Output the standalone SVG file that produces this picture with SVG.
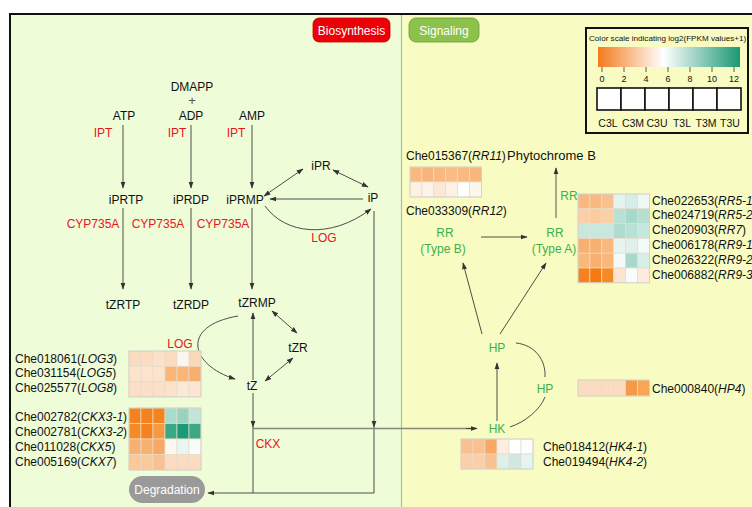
<svg xmlns="http://www.w3.org/2000/svg" width="752" height="507" viewBox="0 0 752 507">
<defs>
<marker id="ah" viewBox="0 0 10 10" refX="9" refY="5" markerWidth="7" markerHeight="7" orient="auto-start-reverse" markerUnits="userSpaceOnUse"><path d="M0,1.5 L10,5 L0,8.5 Z" fill="#333"/></marker>
<linearGradient id="grad" x1="0" y1="0" x2="1" y2="0">
<stop offset="0" stop-color="#f47a1c"/>
<stop offset="0.46" stop-color="#ffffff"/>
<stop offset="1" stop-color="#1b9872"/>
</linearGradient>
<style>
text{font-family:"Liberation Sans",Arial,sans-serif;font-size:12px;fill:#111;}
.c{text-anchor:middle;}
.red{fill:#e8151d;}
.grn{fill:#3db04a;}
.it{font-style:italic;}
.ln{stroke:#3a3a3a;stroke-width:0.9;fill:none;}
.arr{marker-end:url(#ah);}
.dbl{marker-start:url(#ah);marker-end:url(#ah);}
.gl{stroke:#85887c;stroke-width:1.6;fill:none;}
.hm rect{stroke:#e6dccb;stroke-width:0.7;}
.hmb{fill:none;stroke:#cfcfc4;stroke-width:0.8;}
.tk{font-size:9px;text-anchor:middle;}
.cl{font-size:10.5px;text-anchor:middle;}
</style>
</defs>

<rect x="0" y="0" width="752" height="507" fill="#ffffff"/>
<rect x="11" y="15" width="391" height="492" fill="#eefcd8"/>
<rect x="402" y="15" width="350" height="492" fill="#f8fcc2"/>
<line x1="401.5" y1="15" x2="401.5" y2="507" stroke="#b6bc9c" stroke-width="1.2"/>
<path d="M10,507 V14 H752" fill="none" stroke="#111" stroke-width="2"/>

<g id="btn-biosynthesis">
<rect x="313" y="18" width="77" height="24" rx="6" fill="#ec0008" stroke="#c80000" stroke-width="0.8"/>
<text x="351.5" y="34.5" class="c" style="fill:#fff">Biosynthesis</text>
</g>
<g id="btn-signaling">
<rect x="409" y="18" width="70" height="24" rx="7" fill="#8cc24c" stroke="#6b9a3a" stroke-width="0.8"/>
<text x="444" y="34.5" class="c" style="fill:#fff">Signaling</text>
</g>

<g id="legend">
<rect x="586" y="28" width="162" height="105" fill="#f8fcc2" stroke="#111" stroke-width="2"/>
<text x="589" y="41" style="font-size:8.1px">Color scale indicating log2(FPKM values+1)</text>
<rect x="598" y="47" width="142" height="20" fill="url(#grad)"/>
<g stroke="#333" stroke-width="0.8">
<line x1="602" y1="67" x2="602" y2="72"/><line x1="624" y1="67" x2="624" y2="72"/><line x1="646" y1="67" x2="646" y2="72"/><line x1="668" y1="67" x2="668" y2="72"/><line x1="690" y1="67" x2="690" y2="72"/><line x1="712" y1="67" x2="712" y2="72"/><line x1="734" y1="67" x2="734" y2="72"/>
</g>
<text x="602" y="82" class="tk">0</text><text x="624" y="82" class="tk">2</text><text x="646" y="82" class="tk">4</text><text x="668" y="82" class="tk">6</text><text x="690" y="82" class="tk">8</text><text x="712" y="82" class="tk">10</text><text x="734" y="82" class="tk">12</text>
<g fill="#fff" stroke="#111" stroke-width="1.6">
<rect x="597" y="88" width="24" height="22"/><rect x="621" y="88" width="24" height="22"/><rect x="645" y="88" width="24" height="22"/><rect x="669" y="88" width="24" height="22"/><rect x="693" y="88" width="24" height="22"/><rect x="717" y="88" width="24" height="22"/>
</g>
<text x="608" y="127" class="cl">C3L</text>
<text x="633" y="127" class="cl">C3M</text>
<text x="657" y="127" class="cl">C3U</text>
<text x="682" y="127" class="cl">T3L</text>
<text x="706" y="127" class="cl">T3M</text>
<text x="730" y="127" class="cl">T3U</text>
</g>

<g id="connectors">
<line x1="123" y1="125" x2="123" y2="188" class="ln arr"/>
<line x1="191" y1="125" x2="191" y2="188" class="ln arr"/>
<line x1="252" y1="125" x2="252" y2="188" class="ln arr"/>
<line x1="123" y1="208" x2="123" y2="289" class="ln arr"/>
<line x1="191" y1="208" x2="191" y2="289" class="ln arr"/>
<line x1="252" y1="208" x2="252" y2="289" class="ln arr"/>
<line x1="264" y1="196" x2="303" y2="169" class="ln dbl"/>
<line x1="333" y1="170" x2="368" y2="187" class="ln dbl"/>
<line x1="363" y1="199" x2="270" y2="199" class="ln arr"/>
<path d="M265,206 C285,234 330,240 371,209" class="ln arr"/>
<path d="M374,211 V427" class="ln arr"/>
<path d="M374,427 V493 H208" class="ln arr"/>
<line x1="272" y1="311" x2="297" y2="333" class="ln dbl"/>
<line x1="293" y1="358" x2="265" y2="381" class="ln dbl"/>
<line x1="253" y1="380" x2="253" y2="313" class="ln arr"/>
<path d="M238,316 C180,326 190,365 235,379" class="ln arr"/>
<line x1="253" y1="393" x2="253" y2="427" class="ln arr"/>
<path d="M253,427 V493" class="ln"/>
<line x1="253" y1="428.5" x2="476" y2="428.5" class="gl"/>
<line x1="466" y1="428.5" x2="477" y2="428.5" class="ln arr"/>
<line x1="497" y1="421" x2="497" y2="363" class="ln arr"/>
<line x1="482" y1="334" x2="463" y2="263" class="ln arr"/>
<line x1="500" y1="334" x2="546" y2="263" class="ln arr"/>
<path d="M516,343 C535,345 546,360 545,377" class="ln"/>
<path d="M545,397 C540,410 525,422 510,427" class="ln"/>
<line x1="481" y1="237" x2="527" y2="237" class="ln arr"/>
<line x1="556" y1="218" x2="556" y2="168" stroke="#7a7a70" stroke-width="1.3" class="arr"/>
</g>

<g id="n-dmapp"><text x="192" y="91" class="c">DMAPP</text><text x="192" y="105" class="c" style="fill:#555;font-size:13px">+</text></g>
<g id="n-atp"><text x="124" y="119.5" class="c">ATP</text></g>
<g id="n-adp"><text x="191" y="119.5" class="c">ADP</text></g>
<g id="n-amp"><text x="252" y="119.5" class="c">AMP</text></g>
<g id="lbl-ipt"><text x="103" y="137" class="c red">IPT</text><text x="177" y="137" class="c red">IPT</text><text x="236" y="137" class="c red">IPT</text></g>
<g id="n-iprtp"><text x="126" y="204" class="c">iPRTP</text></g>
<g id="n-iprdp"><text x="191" y="204" class="c">iPRDP</text></g>
<g id="n-iprmp"><text x="245" y="204" class="c">iPRMP</text></g>
<g id="n-ipr"><text x="321" y="169.5" class="c">iPR</text></g>
<g id="n-ip"><text x="373" y="201.5" class="c">iP</text></g>
<g id="lbl-cyp"><text x="93" y="227.5" class="c red">CYP735A</text><text x="158" y="227.5" class="c red">CYP735A</text><text x="223" y="227.5" class="c red">CYP735A</text></g>
<g id="lbl-log1"><text x="324" y="241.5" class="c red">LOG</text></g>
<g id="n-tzrtp"><text x="123" y="309" class="c">tZRTP</text></g>
<g id="n-tzrdp"><text x="191" y="309" class="c">tZRDP</text></g>
<g id="n-tzrmp"><text x="257" y="306.5" class="c">tZRMP</text></g>
<g id="n-tzr"><text x="298" y="351.5" class="c">tZR</text></g>
<g id="n-tz"><text x="252" y="390" class="c">tZ</text></g>
<g id="lbl-log2"><text x="180" y="347.5" class="c red">LOG</text></g>
<g id="lbl-ckx"><text x="268" y="448" class="c red">CKX</text></g>
<g id="n-degradation">
<rect x="129" y="476" width="76" height="27" rx="13.5" fill="#9a9a9a"/>
<text x="167" y="494" class="c" style="fill:#fff">Degradation</text>
</g>

<g id="hm-log">
<g class="hm">
<rect x="129" y="351" width="12" height="15.3" fill="#fbdcc0"/><rect x="141" y="351" width="12" height="15.3" fill="#fbdcc0"/><rect x="153" y="351" width="12" height="15.3" fill="#fbe1c9"/><rect x="165" y="351" width="12" height="15.3" fill="#fbdcc0"/><rect x="177" y="351" width="12" height="15.3" fill="#fdf6ee"/><rect x="189" y="351" width="12" height="15.3" fill="#fbd8ba"/>
<rect x="129" y="366.3" width="12" height="15.3" fill="#fce3cc"/><rect x="141" y="366.3" width="12" height="15.3" fill="#fce3cc"/><rect x="153" y="366.3" width="12" height="15.3" fill="#fce3cc"/><rect x="165" y="366.3" width="12" height="15.3" fill="#f9b676"/><rect x="177" y="366.3" width="12" height="15.3" fill="#f9b676"/><rect x="189" y="366.3" width="12" height="15.3" fill="#f8ae6c"/>
<rect x="129" y="381.6" width="12" height="15.3" fill="#fbdfc6"/><rect x="141" y="381.6" width="12" height="15.3" fill="#fbdfc6"/><rect x="153" y="381.6" width="12" height="15.3" fill="#fbdfc6"/><rect x="165" y="381.6" width="12" height="15.3" fill="#fbe2cb"/><rect x="177" y="381.6" width="12" height="15.3" fill="#fce8d6"/><rect x="189" y="381.6" width="12" height="15.3" fill="#fce6d2"/>
</g>
<rect x="129" y="351" width="72" height="45.9" class="hmb"/>
<text x="15" y="362.5">Che018061(<tspan class="it">LOG3</tspan>)</text>
<text x="15" y="377">Che031154(<tspan class="it">LOG5</tspan>)</text>
<text x="15" y="391.5">Che025577(<tspan class="it">LOG8</tspan>)</text>
</g>

<g id="hm-ckx">
<g class="hm">
<rect x="129" y="408" width="12" height="15.5" fill="#f5821f"/><rect x="141" y="408" width="12" height="15.5" fill="#f5821f"/><rect x="153" y="408" width="12" height="15.5" fill="#f5841f"/><rect x="165" y="408" width="12" height="15.5" fill="#a9dccc"/><rect x="177" y="408" width="12" height="15.5" fill="#97d3c0"/><rect x="189" y="408" width="12" height="15.5" fill="#c2e5da"/>
<rect x="129" y="423.5" width="12" height="15.5" fill="#f58a28"/><rect x="141" y="423.5" width="12" height="15.5" fill="#f5821f"/><rect x="153" y="423.5" width="12" height="15.5" fill="#f69a42"/><rect x="165" y="423.5" width="12" height="15.5" fill="#3aa886"/><rect x="177" y="423.5" width="12" height="15.5" fill="#1a9a77"/><rect x="189" y="423.5" width="12" height="15.5" fill="#3ca986"/>
<rect x="129" y="439" width="12" height="15.5" fill="#f8b070"/><rect x="141" y="439" width="12" height="15.5" fill="#f8b070"/><rect x="153" y="439" width="12" height="15.5" fill="#f8a860"/><rect x="165" y="439" width="12" height="15.5" fill="#fcf8f0"/><rect x="177" y="439" width="12" height="15.5" fill="#eaf6f2"/><rect x="189" y="439" width="12" height="15.5" fill="#f8fcfa"/>
<rect x="129" y="454.5" width="12" height="15.5" fill="#fbc898"/><rect x="141" y="454.5" width="12" height="15.5" fill="#fbc898"/><rect x="153" y="454.5" width="12" height="15.5" fill="#f9c090"/><rect x="165" y="454.5" width="12" height="15.5" fill="#fcdcc0"/><rect x="177" y="454.5" width="12" height="15.5" fill="#fcdcc0"/><rect x="189" y="454.5" width="12" height="15.5" fill="#fcdcc0"/>
</g>
<rect x="129" y="408" width="72" height="62" class="hmb"/>
<text x="15" y="420.5">Che002782(<tspan class="it">CKX3-1</tspan>)</text>
<text x="15" y="435.5">Che002781(<tspan class="it">CKX3-2</tspan>)</text>
<text x="15" y="450.5">Che011028(<tspan class="it">CKX5</tspan>)</text>
<text x="15" y="465.5">Che005169(<tspan class="it">CKX7</tspan>)</text>
</g>

<g id="n-phytochrome"><text x="507" y="160" style="font-size:13px">Phytochrome B</text></g>
<g id="hm-rrb">
<text x="406" y="159.5">Che015367(<tspan class="it">RR11</tspan>)</text>
<g class="hm">
<rect x="410" y="167" width="11.9" height="15" fill="#f9b87f"/><rect x="421.9" y="167" width="11.9" height="15" fill="#f8b47a"/><rect x="433.8" y="167" width="11.9" height="15" fill="#f9b87f"/><rect x="445.7" y="167" width="11.9" height="15" fill="#fabc86"/><rect x="457.6" y="167" width="11.9" height="15" fill="#f9ba82"/><rect x="469.5" y="167" width="11.9" height="15" fill="#f9b67c"/>
<rect x="410" y="182" width="11.9" height="15" fill="#fdf0e4"/><rect x="421.9" y="182" width="11.9" height="15" fill="#fdf3ea"/><rect x="433.8" y="182" width="11.9" height="15" fill="#fde8d6"/><rect x="445.7" y="182" width="11.9" height="15" fill="#fdf1e6"/><rect x="457.6" y="182" width="11.9" height="15" fill="#fefefc"/><rect x="469.5" y="182" width="11.9" height="15" fill="#fdf6ee"/>
</g>
<rect x="410" y="167" width="71.4" height="30" class="hmb"/>
<text x="406" y="214.5">Che033309(<tspan class="it">RR12</tspan>)</text>
</g>
<g id="n-rrb"><text x="445" y="237" class="c grn">RR</text><text x="443" y="252.5" class="c grn">(Type B)</text></g>
<g id="n-rra"><text x="555" y="237" class="c grn">RR</text><text x="554" y="252.5" class="c grn">(Type A)</text></g>
<g id="lbl-rr"><text x="569" y="199.5" class="c grn">RR</text></g>

<g id="hm-rra">
<g class="hm">
<rect x="578" y="194" width="11.9" height="14.8" fill="#f9b880"/><rect x="589.9" y="194" width="11.9" height="14.8" fill="#f9b880"/><rect x="601.8" y="194" width="11.9" height="14.8" fill="#f9c08e"/><rect x="613.7" y="194" width="11.9" height="14.8" fill="#e3f3ef"/><rect x="625.6" y="194" width="11.9" height="14.8" fill="#d7ede7"/><rect x="637.5" y="194" width="11.9" height="14.8" fill="#eff8f5"/>
<rect x="578" y="208.8" width="11.9" height="14.8" fill="#fbd0a8"/><rect x="589.9" y="208.8" width="11.9" height="14.8" fill="#fbcc9f"/><rect x="601.8" y="208.8" width="11.9" height="14.8" fill="#fbd0a8"/><rect x="613.7" y="208.8" width="11.9" height="14.8" fill="#b8e0d4"/><rect x="625.6" y="208.8" width="11.9" height="14.8" fill="#a6d9ca"/><rect x="637.5" y="208.8" width="11.9" height="14.8" fill="#b6dfd2"/>
<rect x="578" y="223.6" width="11.9" height="14.8" fill="#c8e8df"/><rect x="589.9" y="223.6" width="11.9" height="14.8" fill="#c8e8df"/><rect x="601.8" y="223.6" width="11.9" height="14.8" fill="#c8e8df"/><rect x="613.7" y="223.6" width="11.9" height="14.8" fill="#b0dcd0"/><rect x="625.6" y="223.6" width="11.9" height="14.8" fill="#b8e0d4"/><rect x="637.5" y="223.6" width="11.9" height="14.8" fill="#c6e7de"/>
<rect x="578" y="238.4" width="11.9" height="14.8" fill="#f8b070"/><rect x="589.9" y="238.4" width="11.9" height="14.8" fill="#f8b070"/><rect x="601.8" y="238.4" width="11.9" height="14.8" fill="#f9b880"/><rect x="613.7" y="238.4" width="11.9" height="14.8" fill="#e8f4f0"/><rect x="625.6" y="238.4" width="11.9" height="14.8" fill="#e0f1ec"/><rect x="637.5" y="238.4" width="11.9" height="14.8" fill="#f4faf8"/>
<rect x="578" y="253.2" width="11.9" height="14.8" fill="#f9b878"/><rect x="589.9" y="253.2" width="11.9" height="14.8" fill="#f8b070"/><rect x="601.8" y="253.2" width="11.9" height="14.8" fill="#f9b878"/><rect x="613.7" y="253.2" width="11.9" height="14.8" fill="#f4faf8"/><rect x="625.6" y="253.2" width="11.9" height="14.8" fill="#a8dacc"/><rect x="637.5" y="253.2" width="11.9" height="14.8" fill="#d8eee8"/>
<rect x="578" y="268" width="11.9" height="14.8" fill="#f5821f"/><rect x="589.9" y="268" width="11.9" height="14.8" fill="#f57a10"/><rect x="601.8" y="268" width="11.9" height="14.8" fill="#f58a28"/><rect x="613.7" y="268" width="11.9" height="14.8" fill="#fde4d0"/><rect x="625.6" y="268" width="11.9" height="14.8" fill="#f8fcfa"/><rect x="637.5" y="268" width="11.9" height="14.8" fill="#fcebde"/>
</g>
<rect x="578" y="194" width="71.4" height="88.8" class="hmb"/>
<text x="652" y="204.5">Che022653(<tspan class="it">RR5-1</tspan>)</text>
<text x="652" y="219">Che024719(<tspan class="it">RR5-2</tspan>)</text>
<text x="652" y="234">Che020903(<tspan class="it">RR7</tspan>)</text>
<text x="652" y="249">Che006178(<tspan class="it">RR9-1</tspan>)</text>
<text x="652" y="263.5">Che026322(<tspan class="it">RR9-2</tspan>)</text>
<text x="652" y="278.5">Che006882(<tspan class="it">RR9-3</tspan>)</text>
</g>

<g id="n-hp"><text x="497" y="351.5" class="c grn">HP</text></g>
<g id="n-hp2"><text x="545" y="392.5" class="c grn">HP</text></g>
<g id="n-hk"><text x="497" y="432.5" class="c grn">HK</text></g>

<g id="hm-hp4">
<g class="hm">
<rect x="578" y="380" width="11.9" height="16" fill="#fbdcc0"/><rect x="589.9" y="380" width="11.9" height="16" fill="#fbdcc0"/><rect x="601.8" y="380" width="11.9" height="16" fill="#fbdcc0"/><rect x="613.7" y="380" width="11.9" height="16" fill="#fbdcc0"/><rect x="625.6" y="380" width="11.9" height="16" fill="#f59a48"/><rect x="637.5" y="380" width="11.9" height="16" fill="#f8a555"/>
</g>
<rect x="578" y="380" width="71.4" height="16" class="hmb"/>
<text x="652" y="392.5">Che000840(<tspan class="it">HP4</tspan>)</text>
</g>

<g id="hm-hk4">
<g class="hm">
<rect x="461" y="439" width="12" height="15" fill="#f9c090"/><rect x="473" y="439" width="12" height="15" fill="#f9c090"/><rect x="485" y="439" width="12" height="15" fill="#f8a860"/><rect x="497" y="439" width="12" height="15" fill="#fdeee2"/><rect x="509" y="439" width="12" height="15" fill="#fefefe"/><rect x="521" y="439" width="12" height="15" fill="#fcfdfd"/>
<rect x="461" y="454" width="12" height="15" fill="#fbd0a8"/><rect x="473" y="454" width="12" height="15" fill="#fbd0a8"/><rect x="485" y="454" width="12" height="15" fill="#f9c090"/><rect x="497" y="454" width="12" height="15" fill="#dff0ec"/><rect x="509" y="454" width="12" height="15" fill="#cfe8e4"/><rect x="521" y="454" width="12" height="15" fill="#e4f4f0"/>
</g>
<rect x="461" y="439" width="72" height="30" class="hmb"/>
<text x="543" y="450.5">Che018412(<tspan class="it">HK4-1</tspan>)</text>
<text x="543" y="466">Che019494(<tspan class="it">HK4-2</tspan>)</text>
</g>
</svg>
